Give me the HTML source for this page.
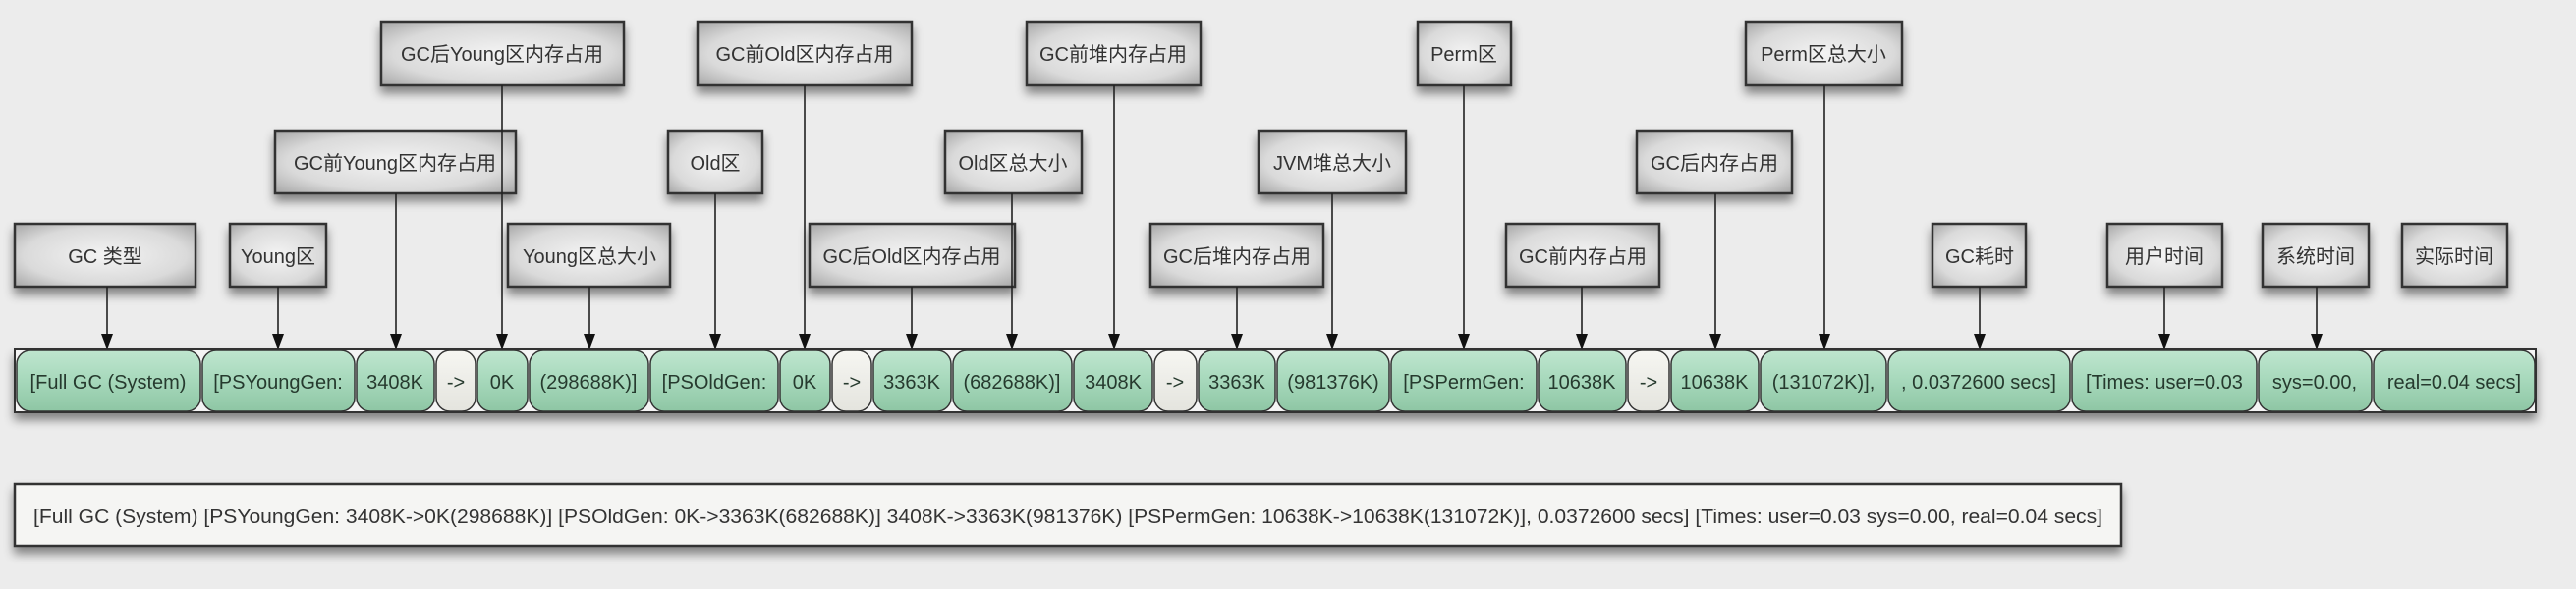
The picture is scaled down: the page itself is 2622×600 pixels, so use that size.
<!DOCTYPE html>
<html><head><meta charset="utf-8"><style>
html,body{margin:0;padding:0;background:#ececec;}
svg{display:block;}
text{font-family:"Liberation Sans","Noto Sans CJK SC",sans-serif;}
</style></head><body>
<svg width="2622" height="600" viewBox="0 0 2622 600" xmlns="http://www.w3.org/2000/svg">
<defs>
<radialGradient id="box" cx="0.5" cy="0.5" r="0.75">
<stop offset="0" stop-color="#f4f4f4"/><stop offset="0.6" stop-color="#dadada"/><stop offset="1" stop-color="#9c9c9c"/>
</radialGradient>
<linearGradient id="grn" x1="0" y1="0" x2="0" y2="1">
<stop offset="0" stop-color="#bfe6cf"/><stop offset="0.5" stop-color="#a6d8bb"/><stop offset="1" stop-color="#8ec6a4"/>
</linearGradient>
<linearGradient id="wht" x1="0" y1="0" x2="0" y2="1">
<stop offset="0" stop-color="#f6f6f2"/><stop offset="1" stop-color="#e4e4de"/>
</linearGradient>
<filter id="sh" x="-10%" y="-20%" width="120%" height="160%">
<feDropShadow dx="0" dy="7" stdDeviation="5" flood-color="#000" flood-opacity="0.45"/>
</filter>
<path id="ah" d="M-6,-16 L6,-16 L0,0 Z" fill="#111"/>
</defs>

<!-- label boxes -->
<g filter="url(#sh)" stroke="#333" stroke-width="2.5" fill="url(#box)">
<rect x="388" y="22" width="247" height="65"/>
<rect x="710" y="22" width="218" height="65"/>
<rect x="1045" y="22" width="177" height="65"/>
<rect x="1443" y="22" width="95" height="65"/>
<rect x="1777" y="22" width="159" height="65"/>
<rect x="280" y="133" width="245" height="64"/>
<rect x="680" y="133" width="96" height="64"/>
<rect x="962" y="133" width="139" height="64"/>
<rect x="1281" y="133" width="150" height="64"/>
<rect x="1666" y="133" width="158" height="64"/>
<rect x="15" y="228" width="184" height="64"/>
<rect x="234" y="228" width="98" height="64"/>
<rect x="517" y="228" width="165" height="64"/>
<rect x="824" y="228" width="209" height="64"/>
<rect x="1171" y="228" width="176" height="64"/>
<rect x="1533" y="228" width="156" height="64"/>
<rect x="1967" y="228" width="95" height="64"/>
<rect x="2145" y="228" width="117" height="64"/>
<rect x="2303" y="228" width="108" height="64"/>
<rect x="2445" y="228" width="107" height="64"/>
</g>
<g font-size="20" fill="#333" text-anchor="middle">
<text x="511" y="62">GC后Young区内存占用</text>
<text x="819" y="62">GC前Old区内存占用</text>
<text x="1133" y="62">GC前堆内存占用</text>
<text x="1490" y="62">Perm区</text>
<text x="1856" y="62">Perm区总大小</text>
<text x="402" y="173">GC前Young区内存占用</text>
<text x="728" y="173">Old区</text>
<text x="1031" y="173">Old区总大小</text>
<text x="1356" y="173">JVM堆总大小</text>
<text x="1745" y="173">GC后内存占用</text>
<text x="107" y="268">GC 类型</text>
<text x="283" y="268">Young区</text>
<text x="600" y="268">Young区总大小</text>
<text x="928" y="268">GC后Old区内存占用</text>
<text x="1259" y="268">GC后堆内存占用</text>
<text x="1611" y="268">GC前内存占用</text>
<text x="2015" y="268">GC耗时</text>
<text x="2203" y="268">用户时间</text>
<text x="2357" y="268">系统时间</text>
<text x="2498" y="268">实际时间</text>
</g>

<!-- bar -->
<rect x="15" y="356" width="2566" height="64" fill="#f4f4f4" stroke="#333" stroke-width="2" filter="url(#sh)"/>
<g stroke="#333" stroke-width="1.5">
<rect x="17" y="357" width="187" height="62" rx="14" fill="url(#grn)"/>
<rect x="206" y="357" width="155" height="62" rx="14" fill="url(#grn)"/>
<rect x="363" y="357" width="79" height="62" rx="14" fill="url(#grn)"/>
<rect x="444" y="357" width="40" height="62" rx="14" fill="url(#wht)"/>
<rect x="486" y="357" width="51" height="62" rx="14" fill="url(#grn)"/>
<rect x="539" y="357" width="121" height="62" rx="14" fill="url(#grn)"/>
<rect x="662" y="357" width="130" height="62" rx="14" fill="url(#grn)"/>
<rect x="794" y="357" width="51" height="62" rx="14" fill="url(#grn)"/>
<rect x="847" y="357" width="40" height="62" rx="14" fill="url(#wht)"/>
<rect x="889" y="357" width="79" height="62" rx="14" fill="url(#grn)"/>
<rect x="970" y="357" width="121" height="62" rx="14" fill="url(#grn)"/>
<rect x="1093" y="357" width="80" height="62" rx="14" fill="url(#grn)"/>
<rect x="1175" y="357" width="43" height="62" rx="14" fill="url(#wht)"/>
<rect x="1220" y="357" width="78" height="62" rx="14" fill="url(#grn)"/>
<rect x="1300" y="357" width="114" height="62" rx="14" fill="url(#grn)"/>
<rect x="1416" y="357" width="148" height="62" rx="14" fill="url(#grn)"/>
<rect x="1566" y="357" width="89" height="62" rx="14" fill="url(#grn)"/>
<rect x="1657" y="357" width="42" height="62" rx="14" fill="url(#wht)"/>
<rect x="1701" y="357" width="89" height="62" rx="14" fill="url(#grn)"/>
<rect x="1792" y="357" width="128" height="62" rx="14" fill="url(#grn)"/>
<rect x="1922" y="357" width="185" height="62" rx="14" fill="url(#grn)"/>
<rect x="2109" y="357" width="188" height="62" rx="14" fill="url(#grn)"/>
<rect x="2299" y="357" width="115" height="62" rx="14" fill="url(#grn)"/>
<rect x="2416" y="357" width="164" height="62" rx="14" fill="url(#grn)"/>
</g>
<g font-size="20" fill="#263a2e" text-anchor="middle">
<text x="110" y="396">[Full GC (System)</text>
<text x="283" y="396">[PSYoungGen:</text>
<text x="402" y="396">3408K</text>
<text x="464" y="396">-&gt;</text>
<text x="511" y="396">0K</text>
<text x="599" y="396">(298688K)]</text>
<text x="727" y="396">[PSOldGen:</text>
<text x="819" y="396">0K</text>
<text x="867" y="396">-&gt;</text>
<text x="928" y="396">3363K</text>
<text x="1030" y="396">(682688K)]</text>
<text x="1133" y="396">3408K</text>
<text x="1196" y="396">-&gt;</text>
<text x="1259" y="396">3363K</text>
<text x="1357" y="396">(981376K)</text>
<text x="1490" y="396">[PSPermGen:</text>
<text x="1610" y="396">10638K</text>
<text x="1678" y="396">-&gt;</text>
<text x="1745" y="396">10638K</text>
<text x="1856" y="396">(131072K)],</text>
<text x="2014" y="396">, 0.0372600 secs]</text>
<text x="2203" y="396">[Times: user=0.03</text>
<text x="2356" y="396">sys=0.00,</text>
<text x="2498" y="396">real=0.04 secs]</text>
</g>

<!-- connectors -->
<g stroke="#222" stroke-width="1.6">
<line x1="109" y1="292" x2="109" y2="341"/>
<line x1="283" y1="292" x2="283" y2="341"/>
<line x1="403" y1="197" x2="403" y2="341"/>
<line x1="511" y1="87" x2="511" y2="341"/>
<line x1="600" y1="292" x2="600" y2="341"/>
<line x1="728" y1="197" x2="728" y2="341"/>
<line x1="819" y1="87" x2="819" y2="341"/>
<line x1="928" y1="292" x2="928" y2="341"/>
<line x1="1030" y1="197" x2="1030" y2="341"/>
<line x1="1134" y1="87" x2="1134" y2="341"/>
<line x1="1259" y1="292" x2="1259" y2="341"/>
<line x1="1356" y1="197" x2="1356" y2="341"/>
<line x1="1490" y1="87" x2="1490" y2="341"/>
<line x1="1610" y1="292" x2="1610" y2="341"/>
<line x1="1746" y1="197" x2="1746" y2="341"/>
<line x1="1857" y1="87" x2="1857" y2="341"/>
<line x1="2015" y1="292" x2="2015" y2="341"/>
<line x1="2203" y1="292" x2="2203" y2="341"/>
<line x1="2358" y1="292" x2="2358" y2="341"/>
</g>
<g>
<use href="#ah" x="109" y="356"/>
<use href="#ah" x="283" y="356"/>
<use href="#ah" x="403" y="356"/>
<use href="#ah" x="511" y="356"/>
<use href="#ah" x="600" y="356"/>
<use href="#ah" x="728" y="356"/>
<use href="#ah" x="819" y="356"/>
<use href="#ah" x="928" y="356"/>
<use href="#ah" x="1030" y="356"/>
<use href="#ah" x="1134" y="356"/>
<use href="#ah" x="1259" y="356"/>
<use href="#ah" x="1356" y="356"/>
<use href="#ah" x="1490" y="356"/>
<use href="#ah" x="1610" y="356"/>
<use href="#ah" x="1746" y="356"/>
<use href="#ah" x="1857" y="356"/>
<use href="#ah" x="2015" y="356"/>
<use href="#ah" x="2203" y="356"/>
<use href="#ah" x="2358" y="356"/>
</g>

<!-- bottom full log -->
<rect x="15" y="493" width="2144" height="63" fill="#f5f5f3" stroke="#333" stroke-width="2.5" filter="url(#sh)"/>
<text x="34" y="533" font-size="20" fill="#333" textLength="2106" lengthAdjust="spacingAndGlyphs">[Full GC (System) [PSYoungGen: 3408K-&gt;0K(298688K)] [PSOldGen: 0K-&gt;3363K(682688K)] 3408K-&gt;3363K(981376K) [PSPermGen: 10638K-&gt;10638K(131072K)], 0.0372600 secs] [Times: user=0.03 sys=0.00, real=0.04 secs]</text>
</svg>
</body></html>
